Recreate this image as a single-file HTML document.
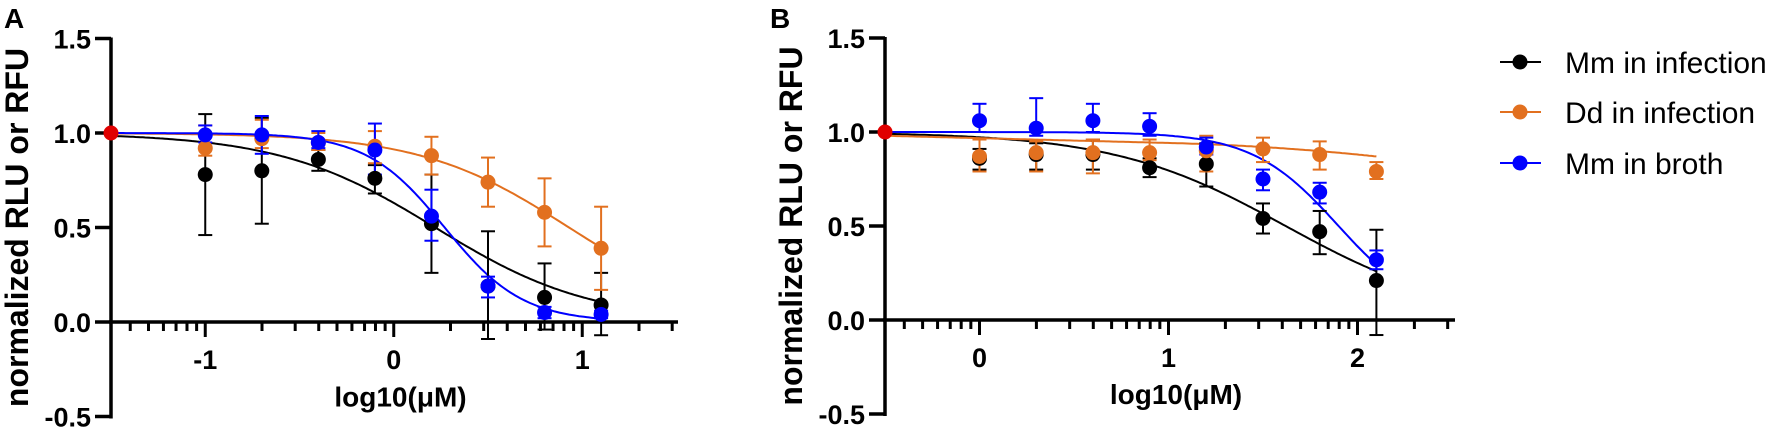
<!DOCTYPE html><html><head><style>body{margin:0;background:#fff}svg{display:block}text{font-family:"Liberation Sans",Arial,sans-serif}</style></head><body>
<svg id="s" width="1772" height="430" viewBox="0 0 1772 430"></svg>
<script>
const s=document.getElementById('s');let h='';
const BK='#000',OR='#e2701f',BL='#0000ff';
function panel(P){
 const X=v=>P.x0+(v-P.xmin)*P.dec, Y=v=>P.y0-v*P.ys;
 h+=`<line x1="${P.x0}" y1="${Y(1.5)-1}" x2="${P.x0}" y2="${Y(-0.5)+2}" stroke="#000" stroke-width="3.5"/>`;
 h+=`<line x1="${P.x0-2}" y1="${Y(0)}" x2="${P.axEnd}" y2="${Y(0)}" stroke="#000" stroke-width="3.5"/>`;
 [1.5,1,0.5,0,-0.5].forEach(v=>{h+=`<line x1="${P.x0-16}" y1="${Y(v)}" x2="${P.x0}" y2="${Y(v)}" stroke="#000" stroke-width="3.5"/><text x="${P.x0-20}" y="${Y(v)+10}" font-size="27" font-weight="bold" text-anchor="end">${v.toFixed(1)}</text>`});
 for(let d=Math.floor(P.xmin);d<=Math.ceil(P.xmax);d++){for(let k=1;k<10;k++){const lv=d+Math.log10(k);if(lv<=P.xmin+0.02||lv>P.xmax+0.01)continue;const L=k==1?15:9;h+=`<line x1="${X(lv)}" y1="${Y(0)}" x2="${X(lv)}" y2="${Y(0)+L}" stroke="#000" stroke-width="3"/>`}}
 P.maj.forEach(v=>{h+=`<text x="${X(v)}" y="${Y(0)+47}" font-size="27" font-weight="bold" text-anchor="middle">${v<0?'-'+(-v):v}</text>`});
 h+=`<text x="${(P.x0+P.axEnd)/2+6}" y="${Y(-0.5)-10}" font-size="28" font-weight="bold" text-anchor="middle">log10(μM)</text>`;
 h+=`<text transform="translate(${P.x0-83},${(Y(1.5)+Y(-0.5))/2}) rotate(-90)" font-size="32" font-weight="bold" text-anchor="middle">normalized RLU or RFU</text>`;
 h+=`<text x="${P.lx}" y="28" font-size="28" font-weight="bold">${P.lab}</text>`;
 P.series.forEach(S=>{
  let d='';for(let i=0;i<=200;i++){const lv=P.xmin+(S.xe-P.xmin)*i/200;const y=S.f(lv);d+=(i?'L':'M')+X(lv).toFixed(1)+' '+Y(y).toFixed(1)}
  h+=`<path d="${d}" fill="none" stroke="${S.c}" stroke-width="2"/>`;
 });
 P.series.forEach(S=>{
  S.pts.forEach(p=>{const x=X(p[0]);h+=`<line x1="${x}" y1="${Y(p[2])}" x2="${x}" y2="${Y(p[3])}" stroke="${S.c}" stroke-width="2"/><line x1="${x-7}" y1="${Y(p[2])}" x2="${x+7}" y2="${Y(p[2])}" stroke="${S.c}" stroke-width="2"/><line x1="${x-7}" y1="${Y(p[3])}" x2="${x+7}" y2="${Y(p[3])}" stroke="${S.c}" stroke-width="2"/>`});
 });
 P.series.forEach(S=>{S.pts.forEach(p=>{h+=`<circle cx="${X(p[0])}" cy="${Y(p[1])}" r="7.5" fill="${S.c}"/>`})});
 h+=`<circle cx="${P.x0}" cy="${Y(1)}" r="7.5" fill="#e00000"/>`;
}
const hill=(ic,n,b=0)=>lv=>b+(1-b)/(1+Math.pow(10,(lv-ic)*n));
panel({x0:111,xmin:-1.5,xmax:1.5,dec:188.5,y0:322,ys:189,axEnd:678,maj:[-1,0,1],lx:4,lab:'A',series:[
 {c:BK,xe:1.1,f:hill(0.22,1.05,0.0),pts:[[-1,.78,.46,1.10],[-0.7,.80,.52,1.08],[-0.4,.86,.80,.91],[-0.1,.76,.68,.83],[0.2,.52,.26,.78],[0.5,.19,-.09,.48],[0.8,.13,-.04,.31],[1.1,.09,-.07,.26]]},
 {c:OR,xe:1.1,f:hill(0.93,1.1),pts:[[-1,.92,.88,1.04],[-0.7,.97,.92,1.07],[-0.4,.95,.91,1.0],[-0.1,.93,.84,1.01],[0.2,.88,.78,.98],[0.5,.74,.61,.87],[0.8,.58,.40,.76],[1.1,.39,.17,.61]]},
 {c:BL,xe:1.1,f:hill(0.27,2.1),pts:[[-1,.99,.95,1.04],[-0.7,.99,.89,1.09],[-0.4,.95,.92,1.01],[-0.1,.91,.78,1.05],[0.2,.56,.43,.70],[0.5,.19,.13,.24],[0.8,.05,.02,.08],[1.1,.04,.02,.06]]}]});
panel({x0:885,xmin:-0.5,xmax:2.5,dec:189,y0:320,ys:188,axEnd:1455,maj:[0,1,2],lx:770,lab:'B',series:[
 {c:BK,xe:2.1,f:hill(1.62,0.95),pts:[[0,.86,.80,.91],[0.3,.88,.80,.94],[0.6,.88,.80,.96],[0.9,.81,.76,.86],[1.2,.83,.71,.94],[1.5,.54,.46,.62],[1.8,.47,.35,.58],[2.1,.21,-.08,.48]]},
 {c:OR,xe:2.1,f:lv=>0.98-0.0255*(lv+0.5)-0.036*Math.pow(Math.max(0,lv-1),2),pts:[[0,.87,.79,.96],[0.3,.89,.79,.95],[0.6,.89,.78,.96],[0.9,.89,.85,.96],[1.2,.90,.79,.98],[1.5,.91,.84,.97],[1.8,.88,.80,.95],[2.1,.79,.75,.84]]},
 {c:BL,xe:2.1,f:hill(1.9,1.9),pts:[[0,1.06,1.0,1.15],[0.3,1.02,.98,1.18],[0.6,1.06,1.0,1.15],[0.9,1.03,.98,1.10],[1.2,.92,.88,.97],[1.5,.75,.69,.80],[1.8,.68,.62,.73],[2.1,.32,.27,.37]]}]});
[[BK,'Mm in infection',62],[OR,'Dd in infection',112],[BL,'Mm in broth',163]].forEach(l=>{
 h+=`<line x1="1500" y1="${l[2]}" x2="1541" y2="${l[2]}" stroke="${l[0]}" stroke-width="2"/><circle cx="1520" cy="${l[2]}" r="7.5" fill="${l[0]}"/><text x="1565" y="${l[2]+11}" font-size="30">${l[1]}</text>`});
s.innerHTML=h;
</script></body></html>
